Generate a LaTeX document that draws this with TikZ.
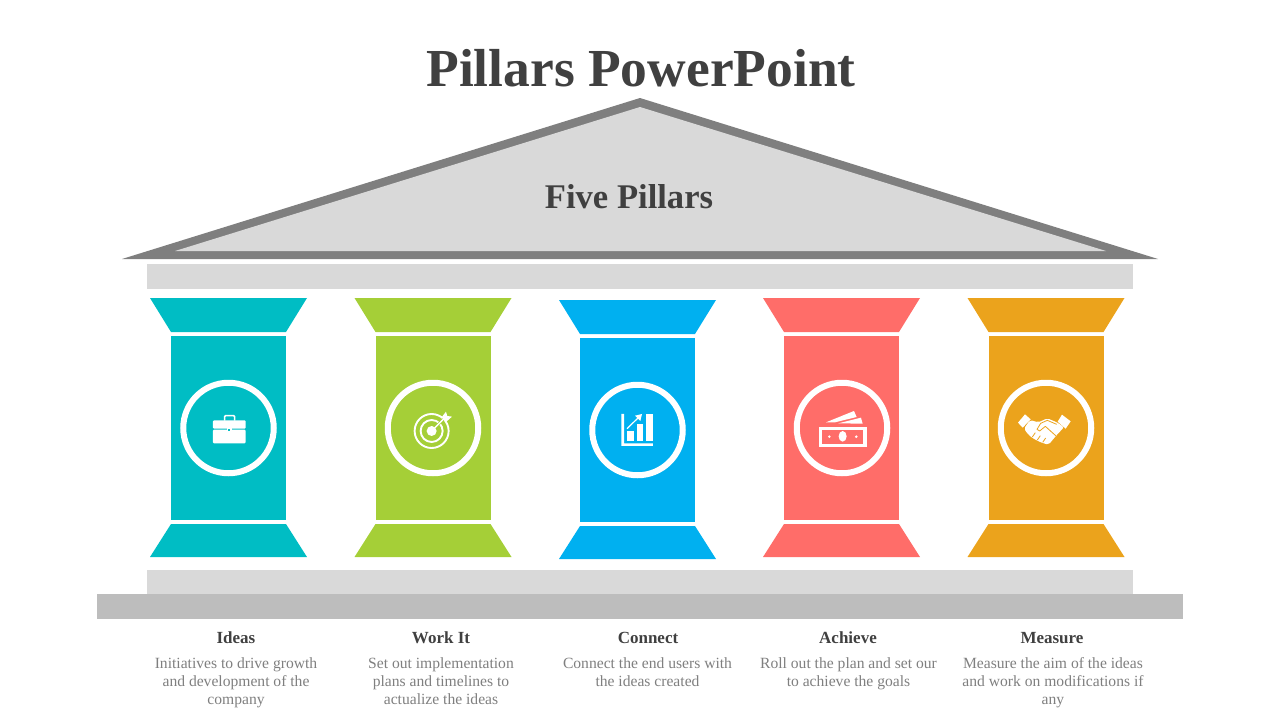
\documentclass[tikz,border=0pt]{standalone}
\usepackage{fontspec}
\setmainfont{Liberation Serif}
\usepackage{xcolor}
\usetikzlibrary{arrows.meta}
\definecolor{pilTeal}{HTML}{00BDC4}
\definecolor{pilGreen}{HTML}{A5CF37}
\definecolor{pilBlue}{HTML}{00B0F0}
\definecolor{pilCoral}{HTML}{FF6D69}
\definecolor{pilOrange}{HTML}{EBA31C}
\definecolor{roofFill}{HTML}{D9D9D9}
\definecolor{roofEdge}{HTML}{7F7F7F}
\definecolor{baseGray}{HTML}{BDBDBD}
\definecolor{headText}{HTML}{404040}
\definecolor{bodyText}{HTML}{7F7F7F}
\tikzset{
    ring/.style={
        draw=white,
        circle,
        line width=6pt,
        minimum size=90.5pt,
        inner sep=0pt
    },
    heading/.style={
        font=\fontsize{17}{18}\selectfont\bfseries,
        text=headText,
        anchor=base,
        inner sep=0pt
    },
    blurb/.style={
        font=\fontsize{15.6}{18}\selectfont,
        text=bodyText,
        align=center,
        anchor=north,
        inner sep=0pt
    },
    pics/pillar/.style={
        code={
            \fill[#1] (-78.5,0) -- (78.5,0) -- (57.5,34) -- (-57.5,34) -- cycle;
            \fill[#1] (-57.5,38) rectangle (57.5,222);
            \fill[#1] (-57.5,226) -- (57.5,226) -- (78.5,259) -- (-78.5,259) -- cycle;
        }
    }
}
\begin{document}
\begin{tikzpicture}[x=1pt,y=-1pt]
    \useasboundingbox (0,0) rectangle (1280,720);

    % Roof and beams
    \fill[roofEdge] (122,259) -- (640,98) -- (1158,259) -- cycle;
    \fill[roofFill] (175,251) -- (640,107) -- (1106,251) -- cycle;
    \fill[roofFill] (147,264) rectangle (1133,289);
    \fill[roofFill] (147,570) rectangle (1133,594);
    \fill[baseGray] (97,594) rectangle (1183,619);

    \node[font=\fontsize{53.5}{60}\selectfont\bfseries, text=headText] (title) at (641,68) {Pillars PowerPoint};
    \node[font=\fontsize{34.6}{40}\selectfont\bfseries, text=headText] (roofname) at (629,197) {Five Pillars};

    % Pillars
    \pic at (228.5,298) {pillar=pilTeal};
    \pic at (433,298) {pillar=pilGreen};
    \pic at (637.5,300) {pillar=pilBlue};
    \pic at (841.5,298) {pillar=pilCoral};
    \pic at (1046,298) {pillar=pilOrange};

    \node[ring] (ring1) at (228.5,428) {};
    \node[ring] (ring2) at (433,428) {};
    \node[ring] (ring3) at (637.5,430) {};
    \node[ring] (ring4) at (842,428) {};
    \node[ring] (ring5) at (1046,428) {};

    % Briefcase
    \begin{scope}[shift={(140,360)},x=0.3333pt,y=-0.3333pt]
        \draw[white,line width=1.6pt,rounded corners=1pt] (254,182) -- (254,167) -- (284,167) -- (284,182);
        \fill[white,rounded corners=1pt] (219,181) rectangle (317,206);
        \fill[white,rounded corners=1pt] (219,209) rectangle (317,250);
        \fill[white] (261,204) rectangle (275,219);
        \fill[pilTeal] (265,207) rectangle (271,213);
    \end{scope}

    % Target
    \begin{scope}[shift={(140,360)},x=0.3333pt,y=-0.3333pt]
        \draw[white,line width=1.9pt] (875,213) circle[radius=17pt];
        \draw[white,line width=1.9pt] (875,213) circle[radius=11pt];
        \fill[white] (875,213) circle[radius=5pt];
        \draw[pilGreen,line width=2.6pt] (885,203) -- (915,173);
        \draw[white,line width=1.4pt] (875,213) -- (915,173);
        \fill[white] (905,172) -- (918,155) -- (922,168) -- (936,170) -- (918,186) -- cycle;
    \end{scope}

    % Chart
    \begin{scope}[shift={(580,370)},x=0.3333pt,y=-0.3333pt]
        \fill[white] (124,132) -- (132,132) -- (132,220) -- (219,220) -- (219,228) -- (124,228) -- cycle;
        \fill[white] (141,183) rectangle (162,212);
        \fill[white] (170,163) rectangle (190,212);
        \fill[white] (198,132) rectangle (219,212);
        \draw[white,line width=1.2pt] (141,176) -- (176,142);
        \fill[white] (186,132) -- (181,153) -- (165,137) -- cycle;
    \end{scope}

    % Banknotes
    \begin{scope}[shift={(580,370)},x=0.3333pt,y=-0.3333pt]
        \draw[white,line width=3.4pt] (722,175) rectangle (855,227);
        \fill[white] (788,199) ellipse[x radius=4pt,y radius=5.3pt];
        \fill[white] (748,200) circle[radius=1.4pt];
        \fill[white] (829,200) circle[radius=1.4pt];
        \fill[white] (738,157) -- (822,123) -- (830,141) -- (765,157) -- cycle;
        \fill[white] (775,160) -- (843,143) -- (848,161) -- cycle;
    \end{scope}

    % Handshake
    \begin{scope}[shift={(990,380)},x=0.3333pt,y=-0.3333pt]
        \fill[white] (84,128) -- (105,103) -- (122,118) -- (98,143) -- cycle;
        \fill[white] (216,104) -- (242,124) -- (227,146) -- (203,125) -- cycle;
        \fill[white,rounded corners=2pt] (120,120) -- (145,127) -- (172,115) -- (203,128) -- (222,142)
            -- (200,165) -- (176,194) -- (160,190) -- (146,184) -- (130,176) -- (115,164) -- (102,146) -- cycle;
        \draw[pilOrange,line width=0.8pt,line join=round] (200,133) -- (172,121) -- (152,130) -- (141,148) -- (149,153) -- (166,139) -- (197,167);
        \draw[pilOrange,line width=0.8pt] (127,171) -- (136,158);
        \draw[pilOrange,line width=0.8pt] (142,180) -- (151,167);
        \draw[pilOrange,line width=0.8pt] (158,187) -- (167,174);
    \end{scope}

    % Captions
    \node[heading] (head1) at (236,643) {Ideas};
    \node[heading] (head2) at (441,643) {Work It};
    \node[heading] (head3) at (648,643) {Connect};
    \node[heading] (head4) at (848,643) {Achieve};
    \node[heading] (head5) at (1052,643) {Measure};

    \node[blurb] (blurb1) at (236,655.7) {\strut Initiatives to drive growth\\and development of the\\company};
    \node[blurb] (blurb2) at (441,655.7) {\strut Set out implementation\\plans and timelines to\\actualize the ideas};
    \node[blurb] (blurb3) at (647.5,655.7) {\strut Connect the end users with\\the ideas created};
    \node[blurb] (blurb4) at (848.5,655.7) {\strut Roll out the plan and set our\\to achieve the goals};
    \node[blurb] (blurb5) at (1053,655.7) {\strut Measure the aim of the ideas\\and work on modifications if\\any};
\end{tikzpicture}
\end{document}
